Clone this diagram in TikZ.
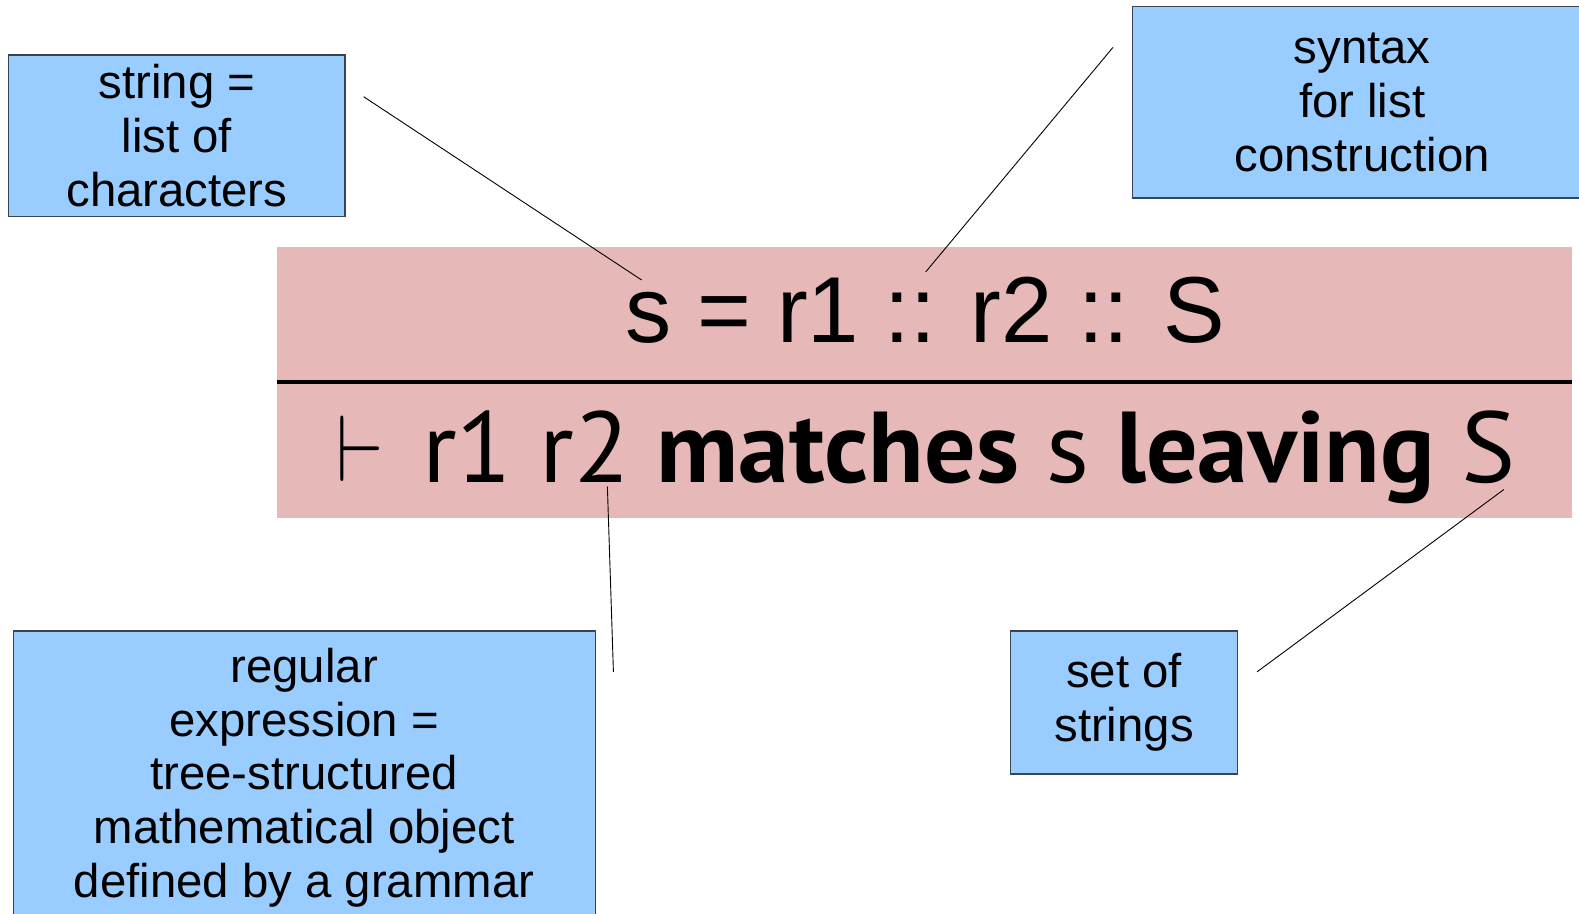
\documentclass[tikz,border=0pt]{standalone}
\usepackage{fontspec}
\usepackage{graphicx}
\setmainfont{Liberation Sans}
\newfontfamily\formulafont{PT Sans}
\definecolor{boxblue}{HTML}{99CCFF}
\definecolor{bandpink}{HTML}{E6B8B7}
\definecolor{boxedge}{HTML}{3A4450}
\begin{document}
\begin{tikzpicture}[x=1pt,y=-1pt,scale=1.0071,every node/.append style={transform shape},
  bluebox/.style={draw=boxedge,line width=1.3pt,fill=boxblue,inner sep=0pt},
  boxtext/.style={align=center,font=\fontsize{47}{53.3}\selectfont,inner sep=0pt},
  pointer/.style={draw=black,line width=0.9pt}]
\useasboundingbox (0,0) rectangle (1567.9,906.6);
\clip (0,0) rectangle (1567.9,906.6);
% pink band
\node[fill=bandpink,inner sep=0pt,minimum width=1286,minimum height=269,anchor=north west] (band) at (275,245) {};
\draw[line width=3.5pt] (275,379.5) -- (1561,379.5);
% formulas
\node[inner sep=0pt,anchor=base] (upper) at (919,340.5)
  {\resizebox{595pt}{\height}{\fontsize{93}{100}\selectfont s = r1 :: r2 :: S}};
\node[inner sep=0pt,anchor=south west] (turn) at (334,478)
  {\resizebox{47pt}{65pt}{$\vdash$}};
\node[inner sep=0pt,anchor=base west] (lower) at (419,479)
  {\resizebox{1086pt}{\height}{\formulafont\fontsize{100}{110}\selectfont r1 r2 \textbf{matches} s \textbf{leaving} S}};
% boxes
\node[bluebox,minimum width=334,minimum height=160,anchor=north west,boxtext] (strBox) at (8,54)
  {string =\\list of\\characters};
\node[bluebox,minimum width=456,minimum height=190,anchor=north west,boxtext] (synBox) at (1124,6)
  {syntax\\for list\\construction};
\node[bluebox,minimum width=225,minimum height=142,anchor=north west,boxtext] (setBox) at (1003,626)
  {set of\\strings};
\node[bluebox,minimum width=578,minimum height=290,anchor=north west] (reBox) at (13,626) {};
\node[boxtext] (reText) at (302,772)
  {regular\\expression =\\tree-structured\\mathematical object\\defined by a grammar};
% pointer lines
\coordinate (p1a) at (361,96);  \coordinate (p1b) at (637,278);
\coordinate (p2a) at (1105,47); \coordinate (p2b) at (919,270);
\coordinate (p3a) at (603,483); \coordinate (p3b) at (609,667);
\coordinate (p4a) at (1493,486);\coordinate (p4b) at (1248,667);
\draw[pointer] (p1a) -- (p1b);
\draw[pointer] (p2a) -- (p2b);
\draw[pointer] (p3a) -- (p3b);
\draw[pointer] (p4a) -- (p4b);
\end{tikzpicture}
\end{document}
